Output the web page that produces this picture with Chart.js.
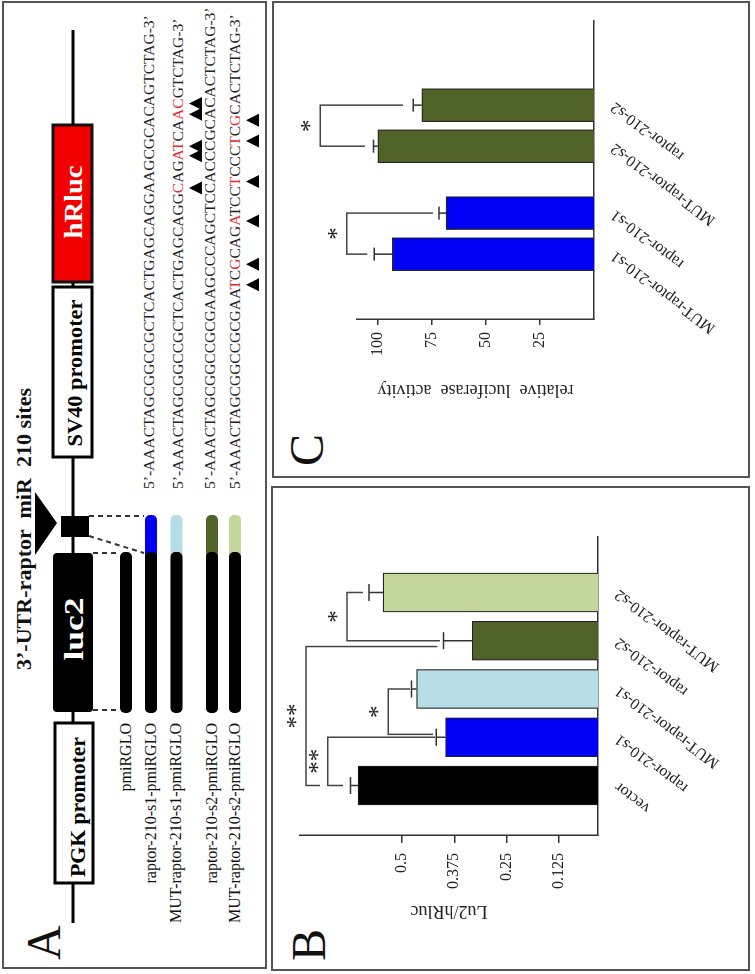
<!DOCTYPE html>
<html>
<head>
<meta charset="utf-8">
<script src="https://cdn.jsdelivr.net/npm/chart.js@4.4.0/dist/chart.umd.min.js"></script>
<style>
  html, body { margin: 0; padding: 0; background: #fff; }
  body { width: 755px; height: 974px; overflow: hidden; position: relative; }
  /* the figure is laid out upright (974 x 755) and turned a quarter turn to the left */
  #fig { position: absolute; left: 0; top: 0; width: 974px; height: 755px; background: #fff;
         transform-origin: 0 0; transform: translate(0, 974px) rotate(-90deg); }
  #fig svg, #fig canvas { position: absolute; }
</style>
</head>
<body>
<div id="fig">
  <svg id="diagram" width="974" height="755" style="left:0;top:0"></svg>
  <canvas id="chartB" width="478" height="475" style="left:5px;top:275px"></canvas>
  <canvas id="chartC" width="470" height="475" style="left:500px;top:275px"></canvas>
</div>
<script>
// ---- panel B data
const labelsB = ["vector", "raptor-210-s1", "MUT-raptor-210-s1", "raptor-210-s2", "MUT-raptor-210-s2"];
const valuesB = [0.605, 0.396, 0.465, 0.332, 0.545];
const errorsB = [0.018, 0.022, 0.012, 0.069, 0.034];
const colorsB = ["#000000", "#0000f5", "#b7dde8", "#4f6228", "#c3d69b"];
const ticksB = [0.125, 0.25, 0.375, 0.5];
// significance brackets: bars compared, height of the bar, where each leg stops
const bracketsB = [
    { pair: [0, 1], level: 0.677, ends: [0.641, 0.421], mark: "**" },
    { pair: [0, 3], level: 0.729, ends: [0.696, 0.416], mark: "**", nudge: [0, -0.12] },
    { pair: [1, 2], level: 0.533, ends: [0.426, 0.481], mark: "*", nudge: [0.06, 0] },
    { pair: [3, 4], level: 0.631, ends: [0.409, 0.593], mark: "*" },
];

// ---- panel C data
const labelsC = ["MUT-raptor-210-s1", "raptor-210-s1", "MUT-raptor-210-s2", "raptor-210-s2"];
const groupsC = [0, 0, 1, 1];
const valuesC = [93.1, 68.3, 99.8, 79.5];
const errorsC = [8.3, 3.2, 2.0, 3.9];
const colorsC = ["#0000f5", "#0000f5", "#4f6228", "#4f6228"];
const ticksC = [25, 50, 75, 100];
const bracketsC = [
    { pair: [0, 1], level: 114.1, ends: [104.7, 74.3], mark: "*" },
    { pair: [2, 3], level: 126.4, ends: [105.7, 88.2], mark: "*" },
];

// ---- panel A content
const constructs = ["pmiRGLO", "raptor-210-s1-pmiRGLO", "MUT-raptor-210-s1-pmiRGLO", "raptor-210-s2-pmiRGLO", "MUT-raptor-210-s2-pmiRGLO"];
const constructColors = [null, "#0000f5", "#b7dde8", "#4f6228", "#c3d69b"];
// letters in [] are the mutated ones
const sequences = [
    "5’-AAACTAGCGGCCGCTCACTGAGCAGGAAGCGCACAGTCTAG-3’",
    "5’-AAACTAGCGGCCGCTCACTGAGCAGG[C]AG[AT]CA[AC]GTCTAG-3’",
    "5’-AAACTAGCGGCCGCGAAGCCCAGCTCCACCCGCACACTCTAG-3’",
    "5’-AAACTAGCGGCCGCGAA[T]C[G]CAG[A]TCC[T]CCC[T]C[G]CACTCTAG-3’",
];

const SERIF = "'Liberation Serif', 'Times New Roman', serif";
Chart.defaults.font.family = SERIF;
Chart.defaults.color = "#222";

// ---------------- diagram (svg)
const svg = document.getElementById("diagram");
const NS = "http://www.w3.org/2000/svg";
function add(tag, attrs, text) {
    const e = document.createElementNS(NS, tag);
    for (const k in attrs) e.setAttribute(k, attrs[k]);
    if (text != null) e.textContent = text;
    svg.appendChild(e);
    return e;
}
const frame = { fill: "none", stroke: "#555", "stroke-width": 2 };
add("rect", Object.assign({ x: 6, y: 3, width: 966, height: 263 }, frame));
add("rect", Object.assign({ x: 4, y: 272, width: 483, height: 477 }, frame));
add("rect", Object.assign({ x: 497, y: 273, width: 475, height: 476 }, frame));

const letter = { "font-family": SERIF, "font-size": 48, fill: "#111" };
add("text", Object.assign({ x: 14, y: 60 }, letter), "A");
add("text", Object.assign({ x: 13, y: 325 }, letter), "B");
add("text", Object.assign({ x: 508, y: 323 }, letter), "C");

add("text", { x: 304, y: 31, "font-family": SERIF, "font-weight": "bold", "font-size": 22,
    textLength: 282, style: "white-space:pre", fill: "#111" }, "3’-UTR-raptor  miR  210 sites");

// vector backbone and elements
add("line", { x1: 51, y1: 73, x2: 944, y2: 73, stroke: "#000", "stroke-width": 3 });
const bold = { "font-family": SERIF, "font-weight": "bold", "text-anchor": "middle", lengthAdjust: "spacingAndGlyphs" };
add("rect", { x: 91, y: 55, width: 160, height: 38, fill: "#fff", stroke: "#000", "stroke-width": 3 });
add("text", Object.assign({ x: 167, y: 85, "font-size": 22, textLength: 140, fill: "#000" }, bold), "PGK promoter");
add("rect", { x: 262, y: 53, width: 159, height: 40, rx: 4, fill: "#000" });
add("text", Object.assign({ x: 345, y: 83, "font-size": 28, textLength: 63, fill: "#fff" }, bold), "luc2");
add("rect", { x: 437, y: 61, width: 21, height: 28, fill: "#000" });
add("polygon", { points: "419,35 482,35 451,57", fill: "#000" });
add("rect", { x: 517, y: 53, width: 170, height: 39, fill: "#fff", stroke: "#000", "stroke-width": 3 });
add("text", Object.assign({ x: 601, y: 82, "font-size": 21, textLength: 147, fill: "#000" }, bold), "SV40 promoter");
add("rect", { x: 692, y: 53, width: 157, height: 39, fill: "#f20000", stroke: "#111", "stroke-width": 3 });
add("text", Object.assign({ x: 772, y: 82, "font-size": 26, textLength: 73, fill: "#fff" }, bold), "hRluc");

const dash = { stroke: "#333", "stroke-width": 2, "stroke-dasharray": "5 4" };
add("line", Object.assign({ x1: 421, y1: 93, x2: 421, y2: 119 }, dash));
add("line", Object.assign({ x1: 264, y1: 93, x2: 264, y2: 119 }, dash));
add("line", Object.assign({ x1: 458, y1: 89, x2: 458, y2: 144 }, dash));
add("line", Object.assign({ x1: 438, y1: 89, x2: 421, y2: 144 }, dash));

// constructs
const rowY = [126, 151, 176.5, 212, 235];
constructs.forEach((name, i) => {
    const y = rowY[i];
    if (constructColors[i]) {
        add("rect", { x: 261, y: y - 6, width: 198, height: 12, rx: 5, fill: constructColors[i] });
    }
    add("rect", { x: 261, y: y - 6, width: 161, height: 12, rx: 5, fill: "#000" });
    add("text", { x: 251, y: y + 4.5, "font-family": SERIF, "font-size": 16, "text-anchor": "end", fill: "#111" }, name);
});

// sequences with mutated letters in red and a marker under each
const seqBase = [154, 183, 215, 240];
sequences.forEach((s, li) => {
    const t = add("text", { x: 485, y: seqBase[li], "font-family": SERIF, "font-size": 15.5, fill: "#222" });
    const parts = s.split(/(\[[A-Z]+\])/).filter(p => p.length);
    const mutIdx = [];
    let n = 0;
    parts.forEach(p => {
        const span = document.createElementNS(NS, "tspan");
        if (p[0] === "[") {
            const txt = p.slice(1, -1);
            span.textContent = txt;
            span.setAttribute("fill", "#e8262d");
            for (let k = 0; k < txt.length; k++) mutIdx.push(n + k);
            n += txt.length;
        } else {
            span.textContent = p;
            n += p.length;
        }
        t.appendChild(span);
    });
    mutIdx.forEach(ci => {
        const ext = t.getExtentOfChar(ci);
        const cx = ext.x + ext.width / 2;
        const yb = seqBase[li];
        add("polygon", { points: `${cx - 6.5},${yb + 19} ${cx + 6.5},${yb + 19} ${cx},${yb + 6}`, fill: "#000" });
    });
});

// ---------------- charts
function overlay(pos, values, errors, cap, brackets) {
    return {
        id: "overlay",
        afterDatasetsDraw(chart) {
            const { ctx, scales: { x, y } } = chart;
            const bars = chart.getDatasetMeta(0).data;
            ctx.save();
            ctx.strokeStyle = "#333";
            ctx.lineWidth = 1.5;
            bars.forEach((bar, i) => {
                const top = y.getPixelForValue(values[i] + errors[i]);
                ctx.beginPath();
                ctx.moveTo(bar.x, bar.y);
                ctx.lineTo(bar.x, top);
                ctx.moveTo(bar.x - cap / 2, top);
                ctx.lineTo(bar.x + cap / 2, top);
                ctx.stroke();
            });
            ctx.strokeStyle = "#444";
            ctx.fillStyle = "#222";
            ctx.font = "25px " + SERIF;
            ctx.textAlign = "center";
            brackets.forEach((b) => {
                const nudge = b.nudge || [0, 0];
                const xa = x.getPixelForValue(pos[b.pair[0]] + nudge[0]);
                const xb = x.getPixelForValue(pos[b.pair[1]] + nudge[1]);
                const yl = y.getPixelForValue(b.level);
                ctx.beginPath();
                ctx.moveTo(xa, y.getPixelForValue(b.ends[0]));
                ctx.lineTo(xa, yl);
                ctx.lineTo(xb, yl);
                ctx.lineTo(xb, y.getPixelForValue(b.ends[1]));
                ctx.stroke();
                ctx.fillText(b.mark, (xa + xb) / 2, yl - 2);
            });
            ctx.restore();
        }
    };
}

function barChart(canvasId, cfg) {
    return new Chart(document.getElementById(canvasId), {
        type: "bar",
        data: {
            datasets: [{
                data: cfg.pos.map((p, i) => ({ x: p, y: cfg.values[i] })),
                backgroundColor: cfg.colors,
                borderColor: "#222",
                borderWidth: 1.2,
                barThickness: cfg.barWidth,
            }]
        },
        options: {
            responsive: false,
            animation: false,
            layout: { padding: cfg.padding },
            plugins: { legend: { display: false }, tooltip: { enabled: false } },
            scales: {
                x: {
                    type: "linear", offset: false, min: cfg.xRange[0], max: cfg.xRange[1],
                    afterBuildTicks: (s) => { s.ticks = cfg.pos.map(v => ({ value: v })); },
                    afterFit: (s) => { s.height = cfg.xHeight; },
                    grid: { display: false, drawTicks: false },
                    border: { display: true, color: "#333", width: 1.5 },
                    ticks: {
                        autoSkip: false, minRotation: 53, maxRotation: 53, padding: 13,
                        font: { size: 16 },
                        callback: (v) => cfg.labels[cfg.pos.indexOf(v)] ?? ""
                    }
                },
                y: {
                    min: cfg.yRange[0], max: cfg.yRange[1],
                    afterBuildTicks: (s) => { s.ticks = cfg.ticks.map(v => ({ value: v })); },
                    afterFit: (s) => { s.width = cfg.yWidth; },
                    grid: { drawOnChartArea: false, drawTicks: true, tickLength: cfg.tickLength, color: "#333", lineWidth: 1.5 },
                    border: { display: true, color: "#333", width: 1.5 },
                    ticks: { padding: cfg.tickPadding, font: { size: 16 }, callback: (v) => String(v) },
                    title: { display: true, text: cfg.title, font: { size: 18 }, padding: { top: cfg.titleOffset } }
                }
            }
        },
        plugins: [overlay(cfg.pos, cfg.values, cfg.errors, cfg.cap, cfg.brackets)]
    });
}

const posB = labelsB.map((_, i) => i);
barChart("chartB", {
    pos: posB, labels: labelsB, values: valuesB, errors: errorsB, colors: colorsB,
    ticks: ticksB, brackets: bracketsB, title: "Lu2/hRluc",
    xRange: [-1.026, 5.15], yRange: [0.0318, 0.7435],
    padding: { left: 0, right: 46, top: 25, bottom: 0 },
    xHeight: 152, yWidth: 134, tickLength: 8, tickPadding: 10, titleOffset: 47,
    barWidth: 39, cap: 17
});

// bars sit in two groups with a wider gap between them
const posC = labelsC.map((_, i) => i + groupsC[i] * 0.63);
barChart("chartC", {
    pos: posC, labels: labelsC, values: valuesC, errors: errorsC, colors: colorsC,
    ticks: ticksC, brackets: bracketsC, title: "relative  luciferase  activity",
    xRange: [-1.58, 5.68], yRange: [0, 109.4],
    padding: { left: 0, right: 17, top: 82, bottom: 0 },
    xHeight: 156, yWidth: 155, tickLength: 6, tickPadding: 7, titleOffset: 73,
    barWidth: 33, cap: 13
});
</script>
</body>
</html>
